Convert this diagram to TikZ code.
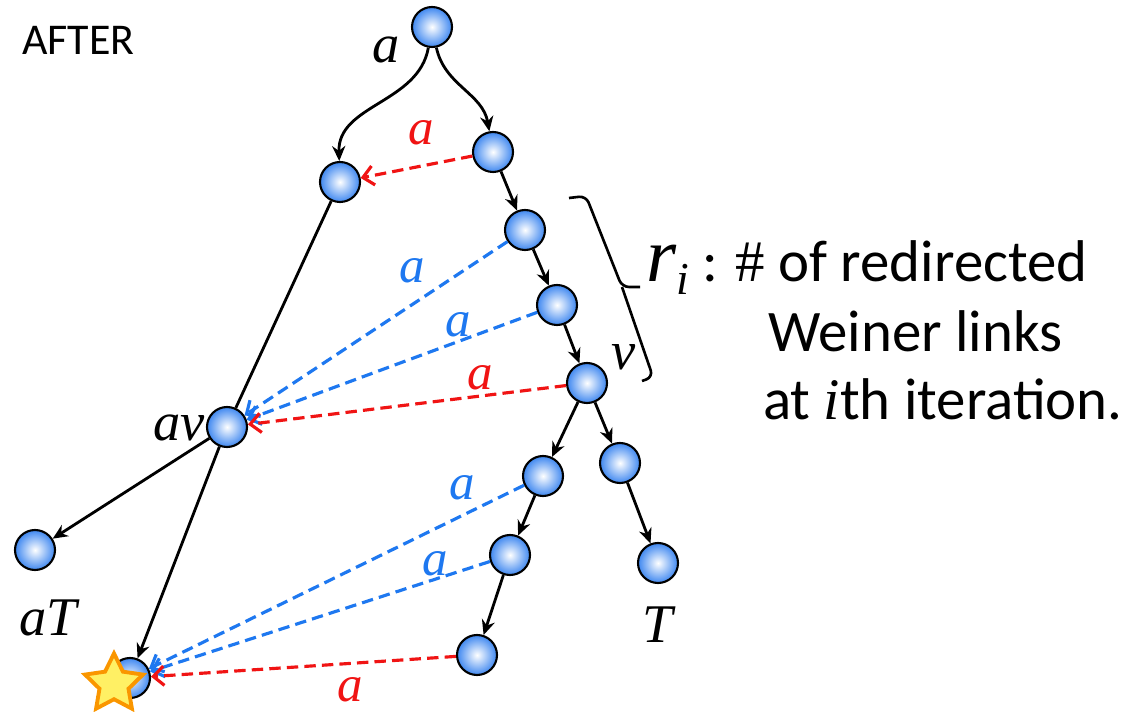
\documentclass[tikz,border=0pt]{standalone}
\usepackage{fontspec}
\setmainfont{Carlito}
\newfontfamily\tms{Liberation Serif}
\usetikzlibrary{positioning, arrows.meta, shapes.geometric}
\definecolor{ballblue}{RGB}{62,135,240}
\definecolor{wblue}{RGB}{30,120,240}
\definecolor{wred}{RGB}{240,20,20}
\definecolor{starfill}{RGB}{255,240,100}
\definecolor{starline}{RGB}{250,150,0}

\begin{document}
\begin{tikzpicture}[
    x=0.02cm, y=-0.02cm,
    tnode/.style={circle, draw=black, line width=1.2pt, minimum size=0.8cm,
                  inner sep=0pt, inner color=white, outer color=ballblue},
    edge/.style={-{Stealth[length=8.5pt, width=7.5pt]}, line width=1.6pt},
    wlink/.style={-{Straight Barb[length=6pt, width=11pt]}, line width=1.8pt,
                  dash pattern=on 6.5pt off 3.5pt},
    elbl/.style={font=\fontsize{29}{30}\selectfont\tms\itshape},
    tlbl/.style={font=\fontsize{31}{32}\selectfont\tms\itshape},
    side/.style={font=\fontsize{33.5}{36}\selectfont, anchor=base west},
]
\useasboundingbox (0,0) rectangle (1122,712);

% Tree nodes
\node[tnode] (root) at (432,27) {};
\node[tnode] (n1) at (493,152) {};
\node[tnode] (n2) at (340,182) {};
\node[tnode] (n3) at (525,230) {};
\node[tnode] (n4) at (557,305) {};
\node[tnode] (v) at (587,383) {};
\node[tnode] (av) at (227,427) {};
\node[tnode] (n5) at (543,476) {};
\node[tnode] (n6) at (620,463) {};
\node[tnode] (n7) at (510,555) {};
\node[tnode] (n8) at (658,563) {};
\node[tnode] (n9) at (477,655) {};
\node[tnode] (aT) at (35,550) {};
\node[tnode] (st) at (130,678) {};

% Tree edges
\draw[edge] (root) to[out=-100, in=92] (n2);
\draw[edge] (root) to[out=-78, in=100] (n1);
\draw[line width=1.6pt] (n2) -- (av);
\foreach \a/\b in {n1/n3, n3/n4, n4/v, v/n5, v/n6, n6/n8, n5/n7, n7/n9, av/aT, av/st} {
    \draw[edge] (\a) -- (\b);
}

% Weiner links
\foreach \a/\b/\c in {n1/n2/wred, n3/av/wblue, n4/av/wblue, v/av/wred,
                      n5/st/wblue, n7/st/wblue, n9/st/wred} {
    \draw[wlink, \c] (\a) -- (\b);
}

% New leaf
\node[star, star points=5, star point ratio=2.0, minimum size=1.22cm, inner sep=0pt,
      fill=starfill, draw=starline, line width=2.2pt] (nstar) at (114,684) {};

% Labels
\node[tlbl] (la) at (386,50) {a};
\node[tlbl, anchor=east] (lav) at (211,428) {av};
\node[tlbl] (laT) at (48,618) {aT};
\node[tlbl] (lT) at (658,625) {T};
\node[tlbl] (lv) at (624,357) {v};
\node[elbl, wred] (l1) at (421,133) {a};
\node[elbl, wblue] (l2) at (412,271) {a};
\node[elbl, wblue] (l3) at (458,325) {a};
\node[elbl, wred] (l4) at (480,378) {a};
\node[elbl, wblue] (l5) at (462,488) {a};
\node[elbl, wblue] (l6) at (435,564) {a};
\node[elbl, wred] (l7) at (350,690) {a};

\node[font=\fontsize{25}{26}\selectfont, anchor=base west] (after) at (16,55) {AFTER};

% Brace and note
\draw[line width=1.5pt, rounded corners=4pt]
    (569,198) -- (586,196) -- (622,287) -- (640,287);
\draw[line width=1.5pt, rounded corners=4pt]
    (622,287) -- (653,377) -- (642,381);
\node[side] (t1) at (640,282)
     {{\fontsize{44}{44}\selectfont\tms\itshape r}\raisebox{-7pt}{\fontsize{26}{26}\selectfont\tms\itshape i} : {\tms\#} of redirected};
\node[side] (t2) at (762,352) {Weiner links};
\node[side] (t3) at (757,420) {at {\tms\itshape i}th iteration.};

\end{tikzpicture}
\end{document}
